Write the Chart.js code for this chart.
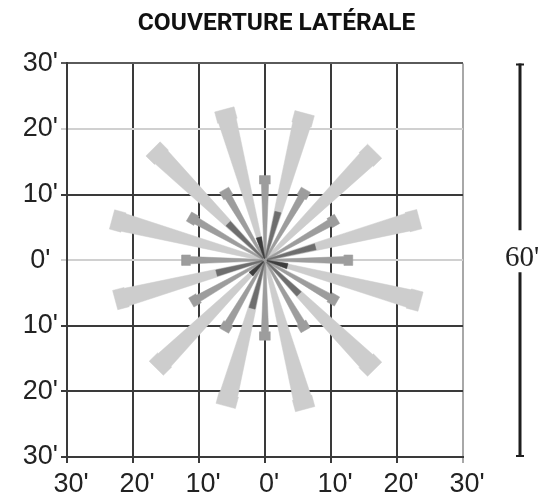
<!DOCTYPE html>
<html><head><meta charset="utf-8">
<script src="https://cdn.jsdelivr.net/npm/chart.js@4.4.0/dist/chart.umd.min.js"></script>
<style>html,body{margin:0;padding:0;background:#fff;}#wrap{width:553px;height:500px;}</style>
</head><body><div id="wrap"><canvas id="c" width="553" height="500"></canvas></div>
<script>
// ---- data ----
const chartTitle = 'COUVERTURE LATÉRALE';
const tickValues = [-30, -20, -10, 0, 10, 20, 30];
const tickLabels = ["30'", "20'", "10'", "0'", "10'", "20'", "30'"];
const spanLabel = "60'";
const spanFeet = [-30, 30];
// long light rays: direction (deg clockwise from north) and reach (ft)
const longAngles  = [15, 45, 75, 105, 135, 165, 195, 225, 255, 285, 315, 345];
const longLengths = [23.2, 23.5, 24.2, 24.4, 23.5, 23.5, 23.0, 23.3, 23.5, 24.0, 24.0, 23.8];
// medium rays
const midAngles  = [0, 30, 60, 90, 120, 150, 180, 210, 240, 270, 300, 330];
const midLengths = [12.9, 12.4, 12.6, 13.3, 12.6, 12.3, 12.2, 12.4, 12.9, 12.6, 13.3, 12.4];
// short dark rays
const shortAngles  = [15, 75, 135, 195, 255, 315];
const shortLengths = [7.6, 7.9, 7.3, 7.6, 7.6, 7.9];
// innermost darkest rays
const innerAngles  = [105, 225, 345];
const innerLengths = [3.5, 3.0, 3.6];

// ---- styling ----
const C_LONG = '#cdcdcd', C_MID = '#9d9d9d', C_SHORT = '#6e6e6e', C_INNER = '#3e3e3e';
const GRID_DARK = '#3a3a3a', GRID_LIGHT = '#d0d0d0';
const PROFILE_LONG  = L => [[0, 0.15], [L - 1.8, 1.38], [L - 1.8, 1.52], [L, 1.52]];
const PROFILE_MID   = L => [[0, 0.1], [L - 1.3, 0.55], [L - 1.3, 0.8], [L, 0.8]];
const PROFILE_SHORT = L => [[0.4, 0.08], [L, 0.48]];
const PROFILE_INNER = L => [[0.3, 0.06], [L, 0.42]];

function rayPolygon(angleDeg, length, profileFn) {
  const a = angleDeg * Math.PI / 180;
  const dx = Math.sin(a), dy = Math.cos(a);
  const px = Math.cos(a), py = -Math.sin(a);
  const prof = profileFn(length);
  const sideA = prof.map(([r, h]) => ({x: r * dx + h * px, y: r * dy + h * py}));
  const sideB = prof.slice().reverse().map(([r, h]) => ({x: r * dx - h * px, y: r * dy - h * py}));
  const pts = sideA.concat(sideB);
  pts.push({...pts[0]});
  return pts;
}
function rayDatasets(angles, lengths, profileFn, color, order) {
  return angles.map((ang, i) => ({
    type: 'line',
    order: order,
    data: rayPolygon(ang, lengths[i], profileFn),
    fill: 'shape',
    backgroundColor: color,
    borderColor: color,
    borderWidth: 0.5,
    pointRadius: 0,
    tension: 0
  }));
}
const datasets = [].concat(
  rayDatasets(longAngles, longLengths, PROFILE_LONG, C_LONG, 4),
  rayDatasets(midAngles, midLengths, PROFILE_MID, C_MID, 3),
  rayDatasets(shortAngles, shortLengths, PROFILE_SHORT, C_SHORT, 2),
  rayDatasets(innerAngles, innerLengths, PROFILE_INNER, C_INNER, 1)
);

const labelFor = v => { const i = tickValues.indexOf(v); return i >= 0 ? tickLabels[i] : ''; };
const tickFont = {family: "'Liberation Sans', Arial, sans-serif", size: 27};

const spanPlugin = {
  id: 'span',
  afterDraw(chart) {
    const ctx = chart.ctx, ys = chart.scales.y;
    const top = ys.getPixelForValue(spanFeet[1]), bot = ys.getPixelForValue(spanFeet[0]);
    const x = chart.chartArea.right + 57;
    const mid = (top + bot) / 2 - 2;
    ctx.save();
    ctx.strokeStyle = '#1e1e1e';
    ctx.lineWidth = 3;
    ctx.beginPath();
    ctx.moveTo(x, top); ctx.lineTo(x, mid - 28);
    ctx.moveTo(x, mid + 14); ctx.lineTo(x, bot);
    ctx.stroke();
    ctx.lineWidth = 2;
    ctx.beginPath();
    ctx.moveTo(x - 4, top + 1); ctx.lineTo(x + 4, top + 1);
    ctx.moveTo(x - 4, bot - 1); ctx.lineTo(x + 4, bot - 1);
    ctx.stroke();
    ctx.fillStyle = '#222';
    ctx.font = "29px 'Liberation Serif', serif";
    ctx.textAlign = 'center';
    ctx.textBaseline = 'middle';
    ctx.fillText(spanLabel, x + 2, mid);
    ctx.restore();
  }
};

function axis(extra) {
  return Object.assign({
    type: 'linear', min: -30, max: 30,
    afterBuildTicks: s => { s.ticks = tickValues.map(v => ({value: v})); },
    border: {display: true, color: GRID_DARK, width: 2},
  }, extra);
}

new Chart(document.getElementById('c'), {
  data: {datasets},
  options: {
    responsive: false, animation: false, events: [],
    layout: {padding: 0},
    plugins: {
      legend: {display: false}, tooltip: {enabled: false},
      title: {display: true, text: chartTitle, color: '#111',
              font: {family: 'Roboto, sans-serif', size: 24.5, weight: 'bold'},
              padding: {top: 9, bottom: 25}}
    },
    scales: {
      x: axis({
        position: 'bottom',
        grid: {lineWidth: 2, tickLength: 6, drawTicks: true,
               color: c => (c.tick && c.tick.value === 30) ? '#a8a8a8' : GRID_DARK},
        ticks: {autoSkip: false, maxRotation: 0, font: tickFont, color: '#222',
                labelOffset: 4, padding: 5, callback: v => labelFor(v)},
        afterFit: s => { s.height = 43; }
      }),
      y: axis({
        position: 'left',
        grid: {lineWidth: 2, tickLength: 6, drawTicks: true,
               color: c => {
                 const v = c.tick && c.tick.value;
                 if (v === 20 || v === 0) return GRID_LIGHT;
                 if (v === 30) return '#5a5a5a';
                 return GRID_DARK;
               }},
        ticks: {autoSkip: false, font: tickFont, color: '#222', crossAlign: 'center',
                padding: 3, callback: v => labelFor(v)},
        afterFit: s => { s.width = 67; }
      }),
      y2: {type: 'linear', position: 'right', display: true, min: 0, max: 1,
           grid: {display: false}, ticks: {display: false}, border: {display: false},
           afterFit: s => { s.width = 90; }}
    }
  },
  plugins: [spanPlugin]
});
</script></body></html>
